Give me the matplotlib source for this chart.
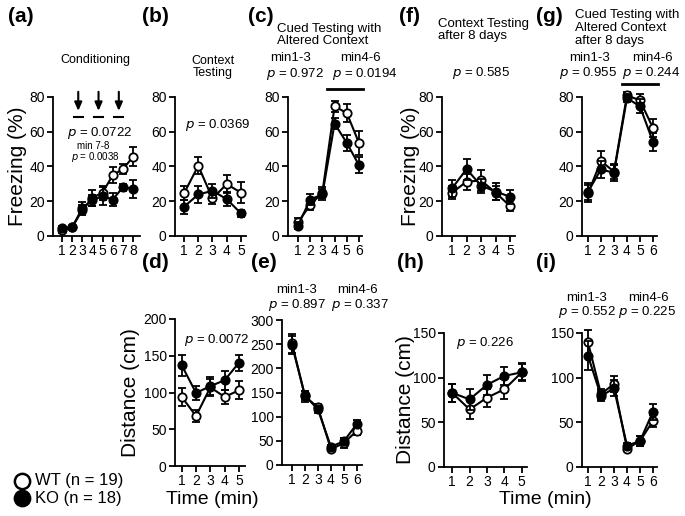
import matplotlib
matplotlib.use("Agg")
import matplotlib.pyplot as plt
from matplotlib.lines import Line2D

plt.rcParams['font.family'] = ['Liberation Sans', 'DejaVu Sans']

W, H = 685, 516

# ---------------- data ----------------
a_x = [1, 2, 3, 4, 5, 6, 7, 8]
a_wt = [3.4, 5, 15, 22, 25, 35, 38.5, 45.5]
a_wt_err = [1.5, 1, 3, 4.5, 4, 4.5, 3, 5.5]
a_ko = [4.5, 5, 16, 20.5, 23, 21, 28, 27]
a_ko_err = [1.5, 1, 3.5, 3, 5, 4, 2, 5]
shock_minutes = [2.6, 4.6, 6.6]

b_x = [1, 2, 3, 4, 5]
b_wt = [24.5, 40.4, 21.6, 29.9, 24.9]
b_wt_err = [4, 5, 3, 5, 6]
b_ko = [16.8, 23.9, 26, 21.2, 13]
b_ko_err = [4, 5, 4, 4, 2]

c_x = [1, 2, 3, 4, 5, 6]
c_wt = [8, 17.8, 25, 74.6, 70.8, 53.6]
c_wt_err = [2.5, 3, 3, 3, 5, 7]
c_ko = [6, 21, 24, 64.7, 53.6, 40.8]
c_ko_err = [2, 3, 3, 3, 4.5, 4.5]

f_x = [1, 2, 3, 4, 5]
f_wt = [25, 31.2, 32, 25, 17.2]
f_wt_err = [3.5, 4.5, 6, 4, 3]
f_ko = [27.4, 38.5, 29, 25.6, 22.6]
f_ko_err = [5, 6, 4, 5, 4]

g_x = [1, 2, 3, 4, 5, 6]
g_wt = [24.5, 43.2, 37, 81, 78, 62.2]
g_wt_err = [5, 5.5, 4, 2, 4, 5]
g_ko = [25.5, 38.3, 36.4, 79.4, 74.6, 54.2]
g_ko_err = [5, 5, 5, 2.5, 4, 5]

d_x = [1, 2, 3, 4, 5]
d_wt = [94, 68, 107, 94, 103]
d_wt_err = [12, 8, 12, 10, 12]
d_ko = [137, 99.5, 108.6, 116.8, 140.5]
d_ko_err = [14, 10, 12, 13, 11]

e_x = [1, 2, 3, 4, 5, 6]
e_wt = [252, 142, 119, 33, 45, 71]
e_wt_err = [20, 12, 8, 5, 10, 8]
e_ko = [248, 144, 115, 38, 49, 85]
e_ko_err = [18, 10, 8, 4, 6, 8]

h_x = [1, 2, 3, 4, 5]
h_wt = [83, 64.5, 77.6, 87, 106]
h_wt_err = [10, 11, 10, 11, 10]
h_ko = [83, 75.7, 92, 102, 106]
h_ko_err = [10, 12, 11, 10, 9]

i_x = [1, 2, 3, 4, 5, 6]
i_wt = [139.5, 81.7, 93, 20.6, 29, 51.7]
i_wt_err = [14, 6, 9, 3, 6, 7]
i_ko = [124.5, 79.5, 88, 24, 29, 62]
i_ko_err = [16, 6, 9, 3, 6, 9]

fig = plt.figure(figsize=(W / 100, H / 100), dpi=100)


def px_axes(l, r, t, b):
    return fig.add_axes([l / W, 1 - b / H, (r - l) / W, (b - t) / H])


def ftext(x, y, s, size=9, ha='center', va='center', **kw):
    fig.text(x / W, 1 - y / H, s, fontsize=size, ha=ha, va=va, **kw)


def panel(box, xs, wt, wte, ko, koe, xlim, ylim, yticks):
    ax = px_axes(*box)
    ax.errorbar(xs, wt, yerr=wte, color='black', lw=1.5, marker='o', ms=6,
                mfc='white', mec='black', mew=1.3, capsize=3, elinewidth=1.3,
                capthick=1.3, zorder=3, clip_on=False)
    ax.errorbar(xs, ko, yerr=koe, color='black', lw=1.5, marker='o', ms=6,
                mfc='black', mec='black', mew=1.3, capsize=3, elinewidth=1.3,
                capthick=1.3, zorder=4, clip_on=False)
    ax.set_xlim(*xlim)
    ax.set_ylim(*ylim)
    ax.set_xticks(xs)
    ax.set_yticks(yticks)
    for s in ['top', 'right']:
        ax.spines[s].set_visible(False)
    for s in ['left', 'bottom']:
        ax.spines[s].set_linewidth(1.3)
    ax.tick_params(direction='out', length=4, width=1.3, labelsize=10, pad=2)
    ax.patch.set_alpha(0)
    return ax


top = (97, 236)
fz_ticks = [0, 20, 40, 60, 80]

ax_a = panel((53, 140) + top, a_x, a_wt, a_wt_err, a_ko, a_ko_err, (0.11, 8.69), (0, 80), fz_ticks)
ax_b = panel((175, 246) + top, b_x, b_wt, b_wt_err, b_ko, b_ko_err, (0.37, 5.35), (0, 80), fz_ticks)
ax_c = panel((288, 362) + top, c_x, c_wt, c_wt_err, c_ko, c_ko_err, (0.18, 6.25), (0, 80), fz_ticks)
ax_f = panel((442, 515) + top, f_x, f_wt, f_wt_err, f_ko, f_ko_err, (0.31, 5.34), (0, 80), fz_ticks)
ax_g = panel((582, 657) + top, g_x, g_wt, g_wt_err, g_ko, g_ko_err, (0.54, 6.31), (0, 80), fz_ticks)

ax_d = panel((175, 245, 319, 466), d_x, d_wt, d_wt_err, d_ko, d_ko_err, (0.53, 5.42), (0, 200), [0, 50, 100, 150, 200])
ax_e = panel((282, 362, 320, 465), e_x, e_wt, e_wt_err, e_ko, e_ko_err, (0.23, 6.4), (0, 300), [0, 50, 100, 150, 200, 250, 300])
ax_h = panel((444, 527, 333, 467), h_x, h_wt, h_wt_err, h_ko, h_ko_err, (0.53, 5.3), (0, 150), [0, 50, 100, 150])
ax_i = panel((582, 657, 333, 467), i_x, i_wt, i_wt_err, i_ko, i_ko_err, (0.54, 6.31), (0, 150), [0, 50, 100, 150])

# shock arrows in (a)
for sx in shock_minutes:
    ax_a.annotate('', xy=(sx, 72), xytext=(sx, 83),
                  arrowprops=dict(arrowstyle='-|>,head_width=0.22,head_length=0.5',
                                  color='black', lw=1.5, shrinkA=0, shrinkB=0),
                  annotation_clip=False)
    ax_a.plot([sx - 0.45, sx + 0.45], [68.5, 68.5], color='black', lw=1.5, clip_on=False)

# bars over min4-6
ax_c.plot([3.4, 6.3], [84.6, 84.6], color='black', lw=2, clip_on=False)
ax_g.plot([3.6, 6.4], [87.5, 87.5], color='black', lw=2, clip_on=False)

# y labels
ftext(18, 166, 'Freezing (%)', size=15, rotation=90)
ftext(410, 166, 'Freezing (%)', size=15, rotation=90)
ftext(130, 393, 'Distance (cm)', size=15, rotation=90)
ftext(405, 400, 'Distance (cm)', size=15, rotation=90)

# x labels
ftext(212, 500, 'Time (min)', size=14)
ftext(545, 500, 'Time (min)', size=14)

# panel letters
for lab, x, y in [('(a)', 21, 16), ('(b)', 155, 16), ('(c)', 261, 16), ('(f)', 409, 16), ('(g)', 549, 16),
                  ('(d)', 155, 263), ('(e)', 264, 263), ('(h)', 410, 263), ('(i)', 546, 263)]:
    ftext(x, y, lab, size=15, weight='bold')

# titles and stats
ftext(95, 60, 'Conditioning', size=9)
ftext(100, 133, r'$p$ = 0.0722', size=9.5)
ftext(93, 146, 'min 7-8', size=7)
ftext(95, 157, r'$p$ = 0.0038', size=7)

ftext(213, 67, 'Context\nTesting', size=9, linespacing=1.1)
ftext(218, 125, r'$p$ = 0.0369', size=9.5)

ftext(277, 35, 'Cued Testing with\nAltered Context', size=9.5, ha='left', linespacing=1.05)
ftext(291, 58, 'min1-3', size=9.5)
ftext(360, 58, 'min4-6', size=9.5)
ftext(295, 74, r'$p$ = 0.972', size=9.5)
ftext(365, 74, r'$p$ = 0.0194', size=9.5)

ftext(438, 30, 'Context Testing\nafter 8 days', size=9.5, ha='left', linespacing=1.1)
ftext(481, 73, r'$p$ = 0.585', size=9.5)

ftext(575, 28, 'Cued Testing with\nAltered Context\nafter 8 days', size=9.5, ha='left', linespacing=1.1)
ftext(590, 58, 'min1-3', size=9.5)
ftext(652, 58, 'min4-6', size=9.5)
ftext(588, 73, r'$p$ = 0.955', size=9.5)
ftext(651, 73, r'$p$ = 0.244', size=9.5)

ftext(217, 340, r'$p$ = 0.0072', size=9.5)

ftext(297, 290, 'min1-3', size=9.5)
ftext(357, 290, 'min4-6', size=9.5)
ftext(297, 305, r'$p$ = 0.897', size=9.5)
ftext(360, 305, r'$p$ = 0.337', size=9.5)

ftext(485, 343, r'$p$ = 0.226', size=9.5)

ftext(587, 298, 'min1-3', size=9.5)
ftext(648, 298, 'min4-6', size=9.5)
ftext(587, 312, r'$p$ = 0.552', size=9.5)
ftext(647, 312, r'$p$ = 0.225', size=9.5)

# legend
fig.add_artist(Line2D([22 / W], [1 - 481 / H], transform=fig.transFigure, marker='o', ms=11,
                      mfc='white', mec='black', mew=1.8, ls='none'))
fig.add_artist(Line2D([22 / W], [1 - 498 / H], transform=fig.transFigure, marker='o', ms=11,
                      mfc='black', mec='black', mew=1.8, ls='none'))
ftext(35, 481, 'WT (n = 19)', size=12, ha='left')
ftext(35, 498, 'KO (n = 18)', size=12, ha='left')

fig.savefig('out.png', dpi=100)
